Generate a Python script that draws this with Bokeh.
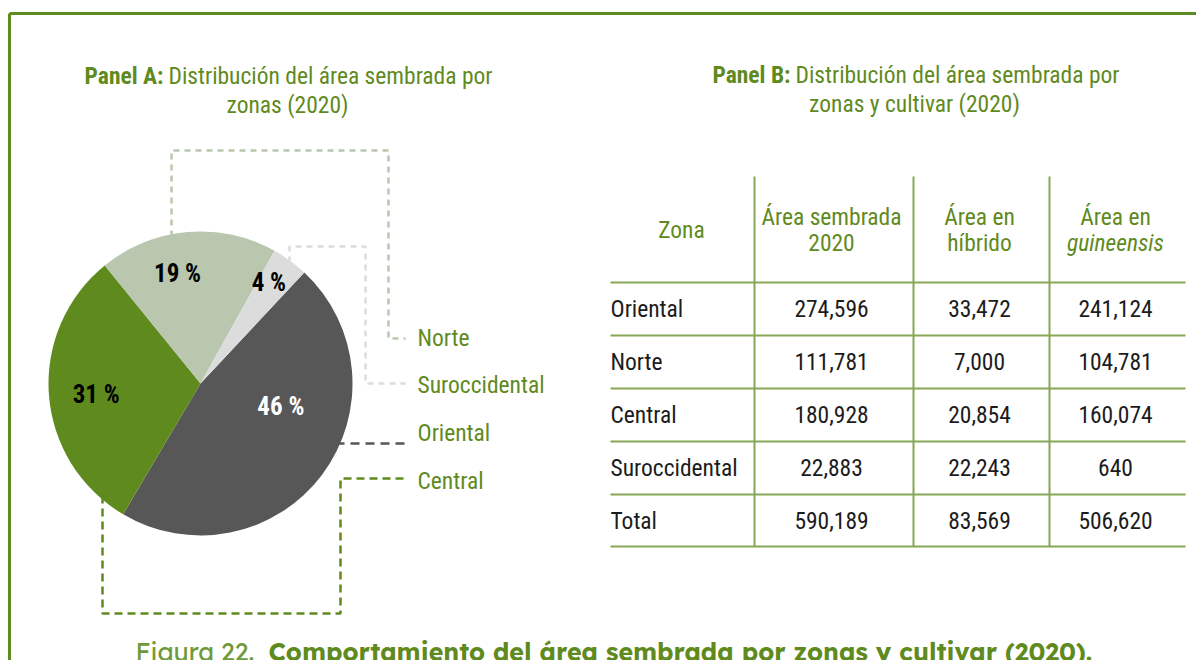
import math, subprocess
from bokeh.plotting import figure
from bokeh.models import Range1d, ColumnDataSource
from bokeh.core.properties import value
from bokeh.embed import file_html
from bokeh.resources import INLINE

# ---------------- data ----------------
zonas = ["Oriental", "Norte", "Central", "Suroccidental"]
area_sembrada = [274596, 111781, 180928, 22883]
area_hibrido = [33472, 7000, 20854, 22243]
area_guineensis = [241124, 104781, 160074, 640]
totales = [590189, 83569, 506620]
pie_order = ["Oriental", "Central", "Norte", "Suroccidental"]
pie_labels = ["46 %", "31 %", "19 %", "4 %"]
legend_order = ["Norte", "Suroccidental", "Oriental", "Central"]

# ---------------- fonts ----------------
try:
    _out = subprocess.run(["fc-list", ":", "family"], capture_output=True, text=True).stdout
    _fams = set()
    for l in _out.splitlines():
        for part in l.split(","):
            _fams.add(part.strip())
except Exception:
    _fams = set()

def pick(cands, default):
    for c in cands:
        if c in _fams:
            return c
    return default

F = pick(["Roboto Condensed", "Sofia Sans Condensed", "Archivo Narrow", "Liberation Sans Narrow"], "DejaVu Sans Condensed")
FC = pick(["Lexend", "Sora", "Urbanist"], "Lato")

# ---------------- style ----------------
GREEN = "#5f8a1e"
FRAME = "#5e8c23"
TLINE = "#86a857"
DARK = "#1c1c1c"
colors = {"Oriental": "#575757", "Central": "#5f8a1e", "Norte": "#b8c7ad", "Suroccidental": "#dcdcdc"}

W, H = 1196, 660
p = figure(width=W, height=H, x_range=Range1d(0, W), y_range=Range1d(0, H),
           output_backend="svg", toolbar_location=None, min_border=0)
p.axis.visible = False
p.grid.visible = False
p.outline_line_color = None
p.background_fill_color = "white"

def Y(y):
    return H - y

def txt(x, y, s, size="23.5px", color=GREEN, style="normal", align="left", font=None, baseline="middle"):
    p.text(x=[x], y=[Y(y)], text=[s], text_font=value(font or F), text_font_size=size,
           text_font_style=style, text_color=color, text_align=align, text_baseline=baseline)

# frame
p.line([9, 1196], [Y(13), Y(13)], line_color=FRAME, line_width=3)
p.line([9, 9], [Y(13), Y(660)], line_color=FRAME, line_width=3)

# titles
txt(163, 75, "Panel A:", style="bold", align="right")
txt(168, 75, "Distribución del área sembrada por")
txt(287, 104, "zonas (2020)", align="center")
txt(790, 74, "Panel B:", style="bold", align="right")
txt(795, 74, "Distribución del área sembrada por")
txt(914, 103, "zonas y cultivar (2020)", align="center")

# leader lines (drawn under pie)
cx, cy, R = 200, 383, 152
leaders = {
    "Norte": ([171, 171, 388, 388, 405], [236, 150, 150, 338, 338], "6 5"),
    "Suroccidental": ([289, 289, 365, 365, 405], [262, 246, 246, 383, 383], "6 5"),
    "Oriental": ([335, 405], [443, 443], "9 6"),
    "Central": ([102, 102, 340, 340, 405], [495, 613, 613, 478, 478], "8 5"),
}
for z, (xs, ys, dash) in leaders.items():
    p.line(xs, [Y(v) for v in ys], line_color=colors[z], line_width=2.5, line_dash=dash)

# pie
tot = sum(area_sembrada)
vals = [area_sembrada[zonas.index(z)] for z in pie_order]
a0 = math.radians(46.9)
starts, ends, cum = [], [], 0.0
for v in vals:
    starts.append(a0 - 2 * math.pi * cum / tot)
    cum += v
    ends.append(a0 - 2 * math.pi * cum / tot)
src = ColumnDataSource(dict(start=starts, end=ends, color=[colors[z] for z in pie_order]))
p.wedge(x=cx, y=Y(cy), radius=R, radius_units="screen", start_angle="start", end_angle="end",
        direction="clock", fill_color="color", line_color=None, source=src)

# pie labels: polar placement (deg, fraction of radius)
lab_pos = [(-16, 0.55), (-174, 0.69), (101.8, 0.74), (55.8, 0.80)]
lab_col = ["white", "black", "black", "black"]
for s, (ang, fr), c in zip(pie_labels, lab_pos, lab_col):
    lx = cx + fr * R * math.cos(math.radians(ang))
    ly = cy - fr * R * math.sin(math.radians(ang))
    txt(lx, ly, s, size="25px", color=c, style="bold", align="center")

# legend labels
for z, ly in zip(legend_order, [337, 384, 432, 480]):
    txt(417, ly, z)

# table
vx = [754, 913, 1049]
hy = [282, 335, 388, 441, 494, 546]
for x in vx:
    p.line([x, x], [Y(176), Y(546)], line_color=TLINE, line_width=2)
for y in hy:
    p.line([610, 1185], [Y(y), Y(y)], line_color=TLINE, line_width=2)
ccols = [831, 979, 1115]
txt(681, 229, "Zona", align="center")
txt(ccols[0], 216, "Área sembrada", align="center")
txt(ccols[0], 242, "2020", align="center")
txt(ccols[1], 216, "Área en", align="center")
txt(ccols[1], 242, "híbrido", align="center")
txt(ccols[2], 216, "Área en", align="center")
txt(ccols[2], 242, "guineensis", align="center", style="italic")
rows_y = [308, 361, 414, 467, 520]
for i, z in enumerate(zonas):
    txt(610, rows_y[i], z, color=DARK)
    for j, arr in enumerate([area_sembrada, area_hibrido, area_guineensis]):
        txt(ccols[j], rows_y[i], f"{arr[i]:,}", color=DARK, align="center")
txt(610, rows_y[4], "Total", color=DARK)
for j, t in enumerate(totales):
    txt(ccols[j], rows_y[4], f"{t:,}", color=DARK, align="center")

# caption (cut by the bottom edge, as in the original)
txt(135, 651, "Figura 22.", size="25px", color="#6f9a3a", font=FC)
txt(268, 651, "Comportamiento del área sembrada por zonas y cultivar (2020).", size="25px",
    color=GREEN, style="bold", font=FC)

open("out.html", "w").write(file_html(p, INLINE))
